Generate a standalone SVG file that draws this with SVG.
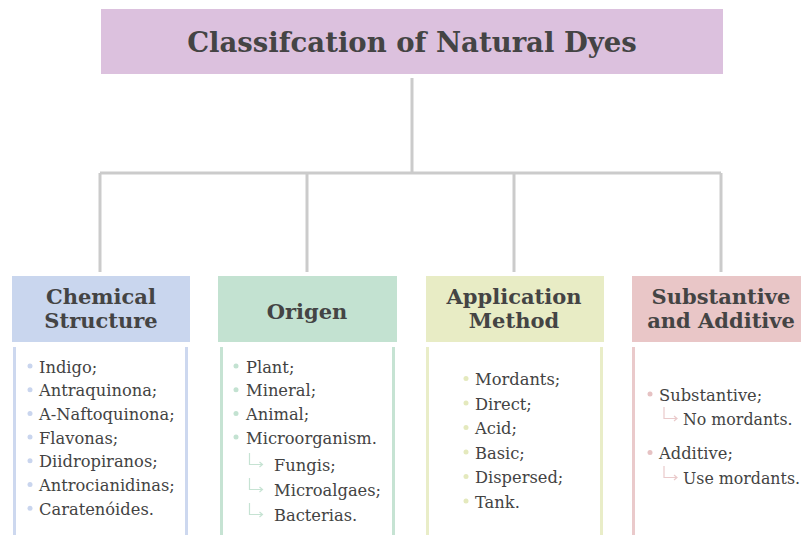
<svg xmlns="http://www.w3.org/2000/svg" width="801" height="535" viewBox="0 0 801 535">
<style>
.hd{font-family:"DejaVu Serif","Liberation Serif",serif;font-weight:bold;fill:#444444;text-anchor:middle;font-size:21px}
.it{font-family:"DejaVu Serif","Liberation Serif",serif;font-size:16.3px;fill:#434343}
.con{stroke:#cbcbcb;stroke-width:3;fill:none}
.arr{fill:none;stroke-width:1.2}
</style>
<rect width="801" height="535" fill="#ffffff"/>
<g id="connectors">
<path class="con" d="M412 78V173M100 173H721M100 173V272M307 173V272M514 173V272M721 173V272"/>
</g>
<g id="title">
<rect x="101" y="9" width="622" height="65" fill="#dcc1de"/>
<text class="hd" x="412" y="52" style="font-size:27.5px">Classifcation of Natural Dyes</text>
</g>
<g id="chemical-structure">
<rect x="12" y="276" width="178" height="66" fill="#c9d6ee"/>
<text class="hd" x="101" y="303.5">Chemical</text>
<text class="hd" x="101" y="327.5">Structure</text>
<rect x="13" y="347" width="3" height="188" fill="#cdd8ef"/>
<rect x="185" y="347" width="3" height="188" fill="#cdd8ef"/>
<g fill="#c9d5ee">
<circle cx="30" cy="366" r="2.5"/><circle cx="30" cy="389.7" r="2.5"/><circle cx="30" cy="413.4" r="2.5"/><circle cx="30" cy="437.1" r="2.5"/><circle cx="30" cy="460.8" r="2.5"/><circle cx="30" cy="484.5" r="2.5"/><circle cx="30" cy="508.2" r="2.5"/>
</g>
<text class="it" x="39" y="372.5">Indigo;</text>
<text class="it" x="39" y="396.2">Antraquinona;</text>
<text class="it" x="39" y="419.9">A-Naftoquinona;</text>
<text class="it" x="39" y="443.6">Flavonas;</text>
<text class="it" x="39" y="467.3">Diidropiranos;</text>
<text class="it" x="39" y="491">Antrocianidinas;</text>
<text class="it" x="39" y="514.7">Caratenóides.</text>
</g>
<g id="origen">
<rect x="218" y="276" width="179" height="66" fill="#c3e2d1"/>
<text class="hd" x="307" y="318.5">Origen</text>
<rect x="220" y="347" width="3" height="188" fill="#c6e3d3"/>
<rect x="392" y="347" width="3" height="188" fill="#c6e3d3"/>
<g fill="#c3e2d1">
<circle cx="236" cy="366" r="2.5"/><circle cx="236" cy="389.7" r="2.5"/><circle cx="236" cy="413.4" r="2.5"/><circle cx="236" cy="437.1" r="2.5"/>
</g>
<text class="it" x="246" y="372.5">Plant;</text>
<text class="it" x="246" y="396.2">Mineral;</text>
<text class="it" x="246" y="419.9">Animal;</text>
<text class="it" x="246" y="443.6">Microorganism.</text>
<g class="arr" stroke="#c6e3d3">
<path d="M249.5 453V464.5H262M259.5 462L262.5 464.5L259.5 467"/>
<path d="M249.5 478V489.5H262M259.5 487L262.5 489.5L259.5 492"/>
<path d="M249.5 503V514.5H262M259.5 512L262.5 514.5L259.5 517"/>
</g>
<text class="it" x="274" y="470.5">Fungis;</text>
<text class="it" x="274" y="495.5">Microalgaes;</text>
<text class="it" x="274" y="520.5">Bacterias.</text>
</g>
<g id="application-method">
<rect x="426" y="276" width="178" height="66" fill="#e8ecc5"/>
<text class="hd" x="514" y="303.5">Application</text>
<text class="hd" x="514" y="327.5">Method</text>
<rect x="426" y="347" width="3" height="188" fill="#e9edc8"/>
<rect x="600" y="347" width="3" height="188" fill="#e9edc8"/>
<g fill="#e4e9bd">
<circle cx="466" cy="378.5" r="2.5"/><circle cx="466" cy="403" r="2.5"/><circle cx="466" cy="427.5" r="2.5"/><circle cx="466" cy="452" r="2.5"/><circle cx="466" cy="476.5" r="2.5"/><circle cx="466" cy="501" r="2.5"/>
</g>
<text class="it" x="475" y="385">Mordants;</text>
<text class="it" x="475" y="409.5">Direct;</text>
<text class="it" x="475" y="434">Acid;</text>
<text class="it" x="475" y="458.5">Basic;</text>
<text class="it" x="475" y="483">Dispersed;</text>
<text class="it" x="475" y="507.5">Tank.</text>
</g>
<g id="substantive-additive">
<rect x="632" y="276" width="180" height="66" fill="#e9c6c7"/>
<text class="hd" x="721" y="303.5">Substantive</text>
<text class="hd" x="721" y="327.5">and Additive</text>
<rect x="632" y="347" width="3" height="188" fill="#eacacb"/>
<g fill="#e6c2c3">
<circle cx="650" cy="394" r="2.5"/><circle cx="650" cy="452.5" r="2.5"/>
</g>
<text class="it" x="659" y="400.5">Substantive;</text>
<text class="it" x="659" y="459">Additive;</text>
<g class="arr" stroke="#eacacb">
<path d="M664 407V418.5H676.5M674 416L677 418.5L674 421"/>
<path d="M664 466V477.5H676.5M674 475L677 477.5L674 480"/>
</g>
<text class="it" x="683" y="424.5" style="font-size:15.8px">No mordants.</text>
<text class="it" x="683" y="483.5" style="font-size:15.8px">Use mordants.</text>
</g>
</svg>
